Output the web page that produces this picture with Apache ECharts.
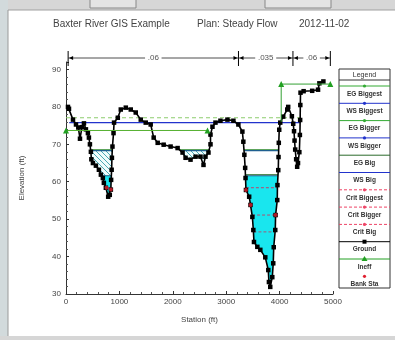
<!DOCTYPE html>
<html>
<head>
<meta charset="utf-8">
<script src="https://cdn.jsdelivr.net/npm/echarts@6/dist/echarts.min.js"></script>
<style>
  html, body { margin: 0; padding: 0; background: #fff; }
  #main { width: 395px; height: 340px; }
</style>
</head>
<body>
<div id="main"></div>
<script>
// ground profile (station ft, elevation ft)
const groundSta = [37, 56, 131, 187, 230, 262, 300, 336, 373, 410, 429, 448, 466, 475, 504, 560, 616, 653, 690, 709,
    746, 790, 820, 840, 845, 855, 860, 870, 890, 900, 970, 1026, 1120, 1213, 1306, 1400, 1493, 1586, 1642, 1717,
    1829, 1959, 2090, 2183, 2239, 2332, 2426, 2519, 2575, 2612, 2668, 2706, 2706, 2743, 2799, 2892, 3023, 3135, 3228, 3303,
    3321, 3340, 3355, 3362, 3370, 3430, 3455, 3490, 3508, 3520, 3583, 3639, 3732, 3788, 3800, 3825, 3863, 3881, 3890, 3919,
    3925, 3956, 3960, 3975, 3980, 3985, 3993, 4012, 4068, 4143, 4161, 4230, 4255, 4270, 4280, 4292, 4310, 4329, 4345, 4370,
    4380, 4385, 4388, 4392, 4450, 4610, 4720, 4745, 4820];
const groundElev = [80.0, 79.5, 76.6, 75.3, 74.5, 71.5, 74.6, 75.6, 74.0, 73.0, 71.8, 70.0, 68.0, 66.0, 65.0, 64.3, 63.2, 61.9, 61.0, 59.7,
    58.4, 56.0, 56.5, 57.9, 60.5, 63.2, 66.4, 69.4, 73.0, 75.8, 77.1, 79.3, 79.8, 79.3, 78.5, 76.6, 75.8, 75.3, 71.8, 70.4,
    69.9, 69.4, 69.0, 67.8, 66.4, 65.9, 66.7, 66.7, 64.5, 66.7, 67.8, 70.0, 72.6, 74.7, 75.8, 76.3, 76.6, 76.3, 75.3, 73.4,
    70.7, 67.2, 63.7, 61.0, 57.8, 56.0, 53.8, 50.6, 47.1, 43.9, 42.6, 41.8, 39.8, 36.4, 33.2, 31.9, 34.5, 38.2, 42.5, 47.1,
    51.1, 55.1, 59.1, 63.1, 66.6, 70.4, 73.9, 75.8, 77.4, 79.3, 80.0, 77.5, 75.5, 73.5, 71.0, 68.6, 66.0, 64.0, 65.0, 67.9,
    72.5, 76.5, 80.5, 83.8, 84.2, 84.3, 84.6, 86.3, 86.8];

// profiles: Biggest, Bigger, Big
const profiles = ['Biggest', 'Bigger', 'Big'];
const wsElev = [75.8, 68.3, 61.6];
const egElev = [77.1, 68.6, 61.9];
const critElev = [58.4, 51.1, 46.6];

const ineffLeftSta = [0, 2650];
const ineffLeftElev = [73.7, 73.7];
const ineffRightSta = [4030, 4030, 4950];
const ineffRightElev = [76.0, 86.1, 86.1];

const bankSta = [760, 840, 3370, 3455, 3925];
const bankElev = [58.4, 57.9, 57.8, 53.8, 51.1];

const nStations = [40, 3230, 4250, 4950];
const nValues = ['.06', '.035', '.06'];

const legendNames = ['EG Biggest', 'WS Biggest', 'EG Bigger', 'WS Bigger', 'EG Big', 'WS Big',
    'Crit Biggest', 'Crit Bigger', 'Crit Big', 'Ground', 'Ineff', 'Bank Sta'];

const ground = groundSta.map((s, i) => [s, groundElev[i]]);

// water pool between the ground crossings around a seed station
function pool(level, seed) {
    let i = 0, best = Infinity;
    ground.forEach((p, k) => {
        const d = Math.abs(p[0] - seed);
        if (p[1] < level && d < best) { best = d; i = k; }
    });
    let L = i, R = i;
    while (L > 0 && ground[L - 1][1] < level) L--;
    while (R < ground.length - 1 && ground[R + 1][1] < level) R++;
    const cross = (a, b) => {
        const t = (level - a[1]) / (b[1] - a[1]);
        return a[0] + t * (b[0] - a[0]);
    };
    const xa = L > 0 ? cross(ground[L - 1], ground[L]) : ground[0][0];
    const xb = R < ground.length - 1 ? cross(ground[R], ground[R + 1]) : ground[R][0];
    return [[xa, level]].concat(ground.slice(L, R + 1)).concat([[xb, level]]);
}

const hatch = document.createElement('canvas');
hatch.width = 5; hatch.height = 5;
(function () {
    const g = hatch.getContext('2d');
    g.fillStyle = '#effcfc'; g.fillRect(0, 0, 5, 5);
    g.strokeStyle = '#4aaab4'; g.lineWidth = 1;
    g.beginPath(); g.moveTo(0, 0); g.lineTo(5, 5); g.stroke();
})();

const fills = [];
[800, 2560].forEach(s => fills.push({ pts: pool(wsElev[1], s), fill: { image: hatch, repeat: 'repeat' } }));
[790, 3825].forEach(s => fills.push({ pts: pool(wsElev[2], s), fill: '#19e6ee' }));

const series = [];

series.push({
    type: 'custom', z: 1, silent: true,
    data: fills.map(f => f.pts[0]),
    renderItem: (params, api) => ({
        type: 'polygon',
        shape: { points: fills[params.dataIndex].pts.map(p => api.coord(p)) },
        style: { fill: fills[params.dataIndex].fill, stroke: null }
    })
});

function hline(name, pts, color, width, dash, z) {
    series.push({
        name: name, type: 'line', z: z || 2, silent: true, symbol: 'none',
        data: pts, lineStyle: { color: color, width: width, type: dash || 'solid' }
    });
}

function levelLines(name, level, seeds, color, width, dash) {
    seeds.forEach(s => {
        const p = pool(level, s);
        hline(name, [p[0], p[p.length - 1]], color, width, dash);
    });
}

// Biggest profile spans the whole section
hline('EG Biggest', [[0, egElev[0]], [4390, egElev[0]]], '#8ccc6c', 1, [4, 3]);
hline('WS Biggest', [[60, wsElev[0]], [4390, wsElev[0]]], '#2233cc', 1.3);
levelLines('EG Bigger', egElev[1], [800, 2560, 3825], '#55a055', 1);
levelLines('WS Bigger', wsElev[1], [800, 2560, 3825], '#1f5f8f', 1.2);
levelLines('EG Big', egElev[2], [3825], '#3d7a3d', 1);
levelLines('WS Big', wsElev[2], [790, 3825], '#205a80', 1);
levelLines('Crit Biggest', critElev[0], [790, 3825], '#c0406a', 1, [3, 2]);
levelLines('Crit Bigger', critElev[1], [3825], '#b05070', 1, [3, 2]);
levelLines('Crit Big', critElev[2], [3825], '#a05878', 1, [3, 2]);

series.push({
    name: 'Ground', type: 'line', z: 4, silent: true,
    data: ground, symbol: 'rect', symbolSize: 4.5,
    itemStyle: { color: '#000' }, lineStyle: { color: '#000', width: 1.6 }
});

series.push({
    name: 'Ineff', type: 'line', z: 5, silent: true,
    data: ineffLeftSta.map((s, i) => [s, ineffLeftElev[i]]),
    symbol: 'triangle', symbolSize: 6,
    itemStyle: { color: '#22a022' }, lineStyle: { color: '#55b030', width: 1 }
});
series.push({
    name: 'Ineff', type: 'line', z: 5, silent: true,
    data: ineffRightSta.map((s, i) => ({ value: [s, ineffRightElev[i]], symbol: i === 0 ? 'none' : 'triangle' })),
    symbolSize: 6,
    itemStyle: { color: '#22a022' }, lineStyle: { color: '#33a033', width: 1 }
});

series.push({
    name: 'Bank Sta', type: 'scatter', z: 6, silent: true,
    data: bankSta.map((s, i) => [s, bankElev[i]]),
    symbolSize: 4, itemStyle: { color: '#e02030' }
});

// Manning's n bar above the plot
series.push({
    type: 'custom', z: 6, silent: true, clip: false,
    data: [[0, 92]],
    renderItem: (params, api) => {
        const y0 = api.coord([0, 92])[1] - 4;
        const kids = [];
        const xs = nStations.map(s => api.coord([s, 92])[0]);
        xs.forEach(x => kids.push({ type: 'line', shape: { x1: x, y1: y0 - 7, x2: x, y2: y0 + 8 }, style: { stroke: '#000', lineWidth: 1 } }));
        nValues.forEach((v, i) => {
            const x1 = xs[i], x2 = xs[i + 1], mid = (x1 + x2) / 2;
            const tw = v.length * 4.5 + 3;
            kids.push({ type: 'text', style: { text: v, x: mid, y: y0, align: 'center', verticalAlign: 'middle', fill: '#555', font: '8px "Liberation Sans"' } });
            kids.push({ type: 'line', shape: { x1: x1, y1: y0, x2: mid - tw / 2, y2: y0 }, style: { stroke: '#222', lineWidth: 0.8 } });
            kids.push({ type: 'line', shape: { x1: mid + tw / 2, y1: y0, x2: x2, y2: y0 }, style: { stroke: '#222', lineWidth: 0.8 } });
            kids.push({ type: 'polygon', shape: { points: [[x1 + 1, y0], [x1 + 5, y0 - 2], [x1 + 5, y0 + 2]] }, style: { fill: '#000' } });
            kids.push({ type: 'polygon', shape: { points: [[x2 - 1, y0], [x2 - 5, y0 - 2], [x2 - 5, y0 + 2]] }, style: { fill: '#000' } });
        });
        return { type: 'group', children: kids };
    }
});

// legend box drawn at the right
const legendSample = [
    { c: '#33aa33', s: 'circle' }, { c: '#2233cc', s: 'circle' }, { c: '#33aa33', s: 'circle' }, { c: '#2233cc', s: 'circle' },
    { c: '#2a6a2a', s: 'none' }, { c: '#2233cc', s: 'none' },
    { c: '#ee4466', s: 'circle', d: true }, { c: '#ee4466', s: 'circle', d: true }, { c: '#ee4466', s: 'circle', d: true },
    { c: '#000', s: 'rect' }, { c: '#22a022', s: 'triangle' }, { c: '#e02030', s: 'circle', noLine: true }
];
const lx = 339, lw = 51, ly = 69;
const legendGraphics = [
    { type: 'rect', shape: { x: lx, y: ly, width: lw, height: 219 }, style: { fill: '#fff', stroke: '#333', lineWidth: 1 } },
    { type: 'text', style: { text: 'Legend', x: lx + lw / 2, y: ly + 6, align: 'center', verticalAlign: 'middle', fill: '#333', font: '7px "Liberation Sans"' } },
    { type: 'line', shape: { x1: lx, y1: ly + 11, x2: lx + lw, y2: ly + 11 }, style: { stroke: '#333', lineWidth: 1 } }
];
legendNames.forEach((n, i) => {
    const ys = 86 + 17.3 * i, st = legendSample[i];
    if (!st.noLine) {
        legendGraphics.push({ type: 'line', shape: { x1: lx, y1: ys, x2: lx + lw, y2: ys }, style: { stroke: st.c, lineWidth: 1, lineDash: st.d ? [3, 2] : null } });
    }
    const mx = lx + lw / 2;
    if (st.s === 'circle') legendGraphics.push({ type: 'circle', shape: { cx: mx, cy: ys, r: 1.6 }, style: { fill: st.c } });
    if (st.s === 'rect') legendGraphics.push({ type: 'rect', shape: { x: mx - 2, y: ys - 2, width: 4, height: 4 }, style: { fill: st.c } });
    if (st.s === 'triangle') legendGraphics.push({ type: 'polygon', shape: { points: [[mx, ys - 3], [mx - 3, ys + 2], [mx + 3, ys + 2]] }, style: { fill: st.c } });
    legendGraphics.push({ type: 'text', style: { text: n, x: mx, y: ys + 8, align: 'center', verticalAlign: 'middle', fill: '#333', font: 'bold 6.5px "Liberation Sans"' } });
});

// window chrome
const chrome = [
    { type: 'rect', shape: { x: 0, y: 0, width: 395, height: 10 }, style: { fill: '#d6d6d6' } },
    { type: 'rect', shape: { x: 90, y: -4, width: 46, height: 12 }, style: { fill: '#e4e4e4', stroke: '#888' } },
    { type: 'rect', shape: { x: 265, y: -4, width: 66, height: 12 }, style: { fill: '#e4e4e4', stroke: '#888' } },
    { type: 'line', shape: { x1: 0, y1: 10, x2: 395, y2: 10 }, style: { stroke: '#a0a0a0' } },
    { type: 'rect', shape: { x: 0, y: 0, width: 8, height: 340 }, style: { fill: '#d2dadc' } },
    { type: 'line', shape: { x1: 8, y1: 10, x2: 8, y2: 340 }, style: { stroke: '#9a9a9a' } },
    { type: 'rect', shape: { x: 0, y: 336, width: 395, height: 4 }, style: { fill: '#d6d6d6' } }
];

const labelFont = { fontFamily: 'Liberation Sans', fontSize: 8, color: '#444' };
const titleFont = { fontFamily: 'Liberation Sans', fontSize: 10, fontWeight: 'normal', color: '#444' };

const chart = echarts.init(document.getElementById('main'), null, { renderer: 'canvas' });
chart.setOption({
    animation: false,
    backgroundColor: '#fff',
    title: [
        { text: 'Baxter River GIS Example', left: 48, top: 14, textStyle: titleFont },
        { text: 'Plan: Steady Flow', left: 192, top: 14, textStyle: titleFont },
        { text: '2012-11-02', left: 294, top: 14, textStyle: titleFont }
    ],
    grid: { left: 66, right: 62, top: 62, bottom: 46 },
    xAxis: {
        type: 'value', min: 0, max: 5000, interval: 1000,
        name: 'Station (ft)', nameLocation: 'middle', nameGap: 22,
        nameTextStyle: labelFont,
        axisLine: { lineStyle: { color: '#333' } },
        axisTick: { inside: true, length: 3, lineStyle: { color: '#333' } },
        minorTick: { show: true, splitNumber: 5, length: 2, lineStyle: { color: '#555' } },
        axisLabel: Object.assign({ margin: 4, formatter: v => String(v) }, labelFont),
        splitLine: { show: false }
    },
    yAxis: {
        type: 'value', min: 30, max: 92, interval: 10,
        name: 'Elevation (ft)', nameLocation: 'middle', nameGap: 40,
        nameTextStyle: labelFont,
        axisLine: { show: true, lineStyle: { color: '#333' } },
        axisTick: { show: true, inside: true, length: 3, lineStyle: { color: '#333' } },
        minorTick: { show: true, splitNumber: 5, length: 2, lineStyle: { color: '#555' } },
        axisLabel: Object.assign({ margin: 5, showMaxLabel: false }, labelFont),
        splitLine: { show: false }
    },
    graphic: chrome.concat(legendGraphics),
    series: series
});
</script>
</body>
</html>
